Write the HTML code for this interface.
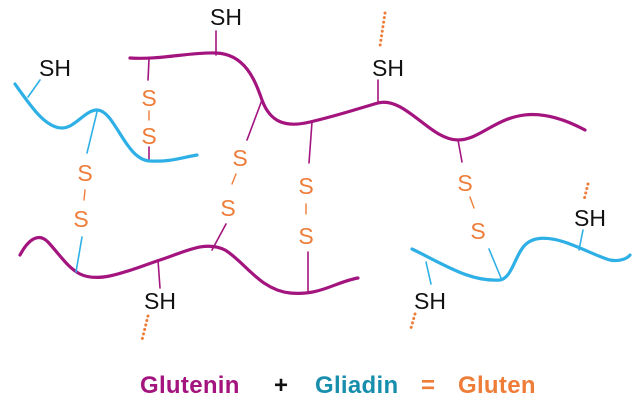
<!DOCTYPE html>
<html><head><meta charset="utf-8"><style>
html,body{margin:0;padding:0;background:#fff;width:638px;height:402px;overflow:hidden}
svg{display:block}
text{font-family:"Liberation Sans",sans-serif}
</style></head><body>
<svg width="638" height="402" viewBox="0 0 638 402">
<g fill="none" stroke-linecap="round">
<g stroke="#a3147f" stroke-width="3.2">
<path d="M130,58 C160,60 190,52 216,53 C245,54 255,80 262,100 C270,122 285,128 310,122 C340,115 360,108 378,103 C405,96 430,140 458,140 C490,140 510,90 585,130"/>
<path d="M20,255 C28,240 38,232 48,242 C60,255 68,268 80,274 C100,284 130,270 160,260 C185,252 205,240 225,250 C245,262 260,290 290,293 C320,296 335,282 358,278"/>
</g>
<g stroke="#a3147f" stroke-width="1.6">
<line x1="149" y1="59" x2="148" y2="80"/><line x1="149" y1="147" x2="149" y2="160"/>
<line x1="216" y1="31" x2="216" y2="55"/>
<line x1="262" y1="100" x2="247" y2="140"/>
<line x1="312" y1="122" x2="309" y2="163"/><line x1="308" y1="252" x2="308" y2="292"/>
<line x1="378" y1="80" x2="378" y2="103"/>
<line x1="458" y1="140" x2="462" y2="162"/>
<line x1="226" y1="224" x2="212" y2="250"/>
<line x1="160" y1="288" x2="158" y2="260"/>
</g>
<g stroke="#2eb0e6" stroke-width="3.2">
<path d="M15,84 C30,105 45,128 62,128 C75,128 85,110 97,110 C115,110 125,160 150,161 C170,162 180,158 197,155"/>
<path d="M412,249 C445,265 470,282 500,280 C512,278 515,255 525,245 C545,225 590,255 610,260 C620,262 628,258 630,255"/>
</g>
<g stroke="#2eb0e6" stroke-width="1.6">
<line x1="40" y1="80" x2="28" y2="97"/>
<line x1="97" y1="112" x2="87" y2="153"/>
<line x1="82" y1="237" x2="76" y2="272"/>
<line x1="489" y1="249" x2="501" y2="278"/>
<line x1="431" y1="284" x2="426" y2="262"/>
<line x1="583" y1="230" x2="579" y2="250"/>
</g>
<g stroke="#ee7d3a" stroke-width="1.4">
<line x1="149" y1="111" x2="149" y2="120"/>
<line x1="85" y1="190" x2="84" y2="200"/>
<line x1="236" y1="174" x2="232" y2="184"/>
<line x1="306" y1="204" x2="306" y2="214"/>
<line x1="470" y1="197" x2="474" y2="208"/>
</g>
<g stroke="#ee7d3a" stroke-width="3" stroke-dasharray="0.1 4.5">
<line x1="385" y1="13" x2="380" y2="46"/>
<line x1="148" y1="316" x2="142" y2="340"/>
<line x1="415" y1="314" x2="411" y2="328"/>
<line x1="588" y1="184" x2="584" y2="200"/>
</g>
</g>
<g font-size="23" fill="#ee7d3a" text-anchor="middle">
<text x="149" y="106">S</text><text x="149" y="144">S</text>
<text x="85" y="181">S</text><text x="81" y="227">S</text>
<text x="240" y="166">S</text><text x="228" y="216">S</text>
<text x="306" y="194">S</text><text x="306" y="244">S</text>
<text x="465" y="191">S</text><text x="478" y="239">S</text>
</g>
<g font-size="23" fill="#111" text-anchor="middle">
<text x="226" y="25">SH</text><text x="55" y="76">SH</text>
<text x="388" y="76">SH</text><text x="160" y="309">SH</text>
<text x="430" y="309">SH</text><text x="590" y="226">SH</text>
</g>
<g font-size="24" font-weight="bold" letter-spacing="0.3">
<text x="140" y="393" fill="#a3147f">Glutenin</text>
<text x="274" y="393" fill="#111">+</text>
<text x="315" y="393" fill="#188ead">Gliadin</text>
<text x="421" y="393" fill="#ee7d3a">=</text>
<text x="458" y="393" fill="#ee7d3a">Gluten</text>
</g>
</svg>
</body></html>
